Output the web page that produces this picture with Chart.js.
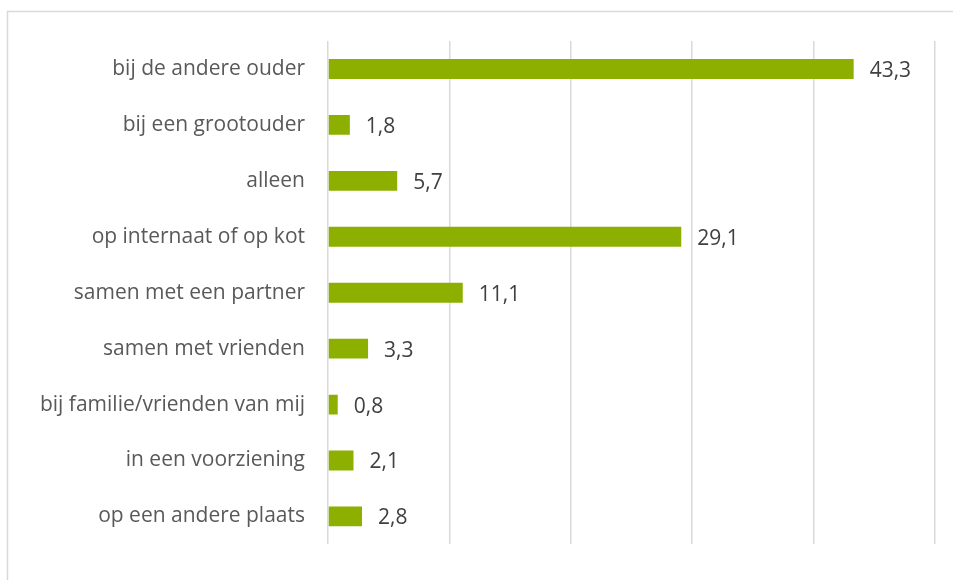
<!DOCTYPE html>
<html>
<head>
<meta charset="utf-8">
<script src="https://cdn.jsdelivr.net/npm/chart.js@4/dist/chart.umd.min.js"></script>
<style>
html,body{margin:0;padding:0;background:#fff;}
#wrap{position:relative;width:953px;height:580px;}
</style>
</head>
<body>
<div id="wrap"><canvas id="c" width="953" height="580"></canvas></div>
<script>
const categories = [
  "bij de andere ouder",
  "bij een grootouder",
  "alleen",
  "op internaat of op kot",
  "samen met een partner",
  "samen met vrienden",
  "bij familie/vrienden van mij",
  "in een voorziening",
  "op een andere plaats"
];
const values = [43.3, 1.8, 5.7, 29.1, 11.1, 3.3, 0.8, 2.1, 2.8];
const axisMin = 0;
const axisMax = 50;
const axisStep = 10;

const FONT = "'Open Sans'";

const frame = {
  id: 'frame',
  beforeDraw(chart) {
    const ctx = chart.ctx;
    ctx.save();
    ctx.strokeStyle = '#d9d9d9';
    ctx.lineWidth = 1.5;
    ctx.strokeRect(7.5, 11.5, 1000, 1000);
    ctx.restore();
  }
};

const valueLabels = {
  id: 'valueLabels',
  afterDatasetsDraw(chart) {
    const ctx = chart.ctx;
    const meta = chart.getDatasetMeta(0);
    ctx.save();
    ctx.fillStyle = '#404040';
    ctx.font = '21px ' + FONT;
    ctx.textAlign = 'left';
    ctx.textBaseline = 'middle';
    meta.data.forEach((bar, i) => {
      const txt = values[i].toFixed(1).replace('.', ',');
      ctx.fillText(txt, bar.x + 16, bar.y + 2);
    });
    ctx.restore();
  }
};

new Chart(document.getElementById('c'), {
  type: 'bar',
  data: {
    labels: categories,
    datasets: [{
      data: values,
      backgroundColor: '#8CAF00',
      borderWidth: 0,
      categoryPercentage: 1,
      barPercentage: 0.355
    }]
  },
  options: {
    indexAxis: 'y',
    responsive: false,
    animation: false,
    maintainAspectRatio: false,
    layout: { padding: { left: 0, right: 18, top: 41, bottom: 27 } },
    plugins: { legend: { display: false }, tooltip: { enabled: false } },
    scales: {
      x: {
        min: axisMin, max: axisMax,
        ticks: { display: false, stepSize: axisStep },
        grid: { color: '#d9d9d9', lineWidth: 1.5, drawTicks: false },
        border: { display: false }
      },
      y: {
        afterFit(scale) { scale.width = 328; },
        ticks: { color: '#595959', font: { family: FONT, size: 21 }, padding: 23 },
        grid: { display: false, drawTicks: false },
        border: { display: false }
      }
    }
  },
  plugins: [frame, valueLabels]
});
</script>
</body>
</html>
